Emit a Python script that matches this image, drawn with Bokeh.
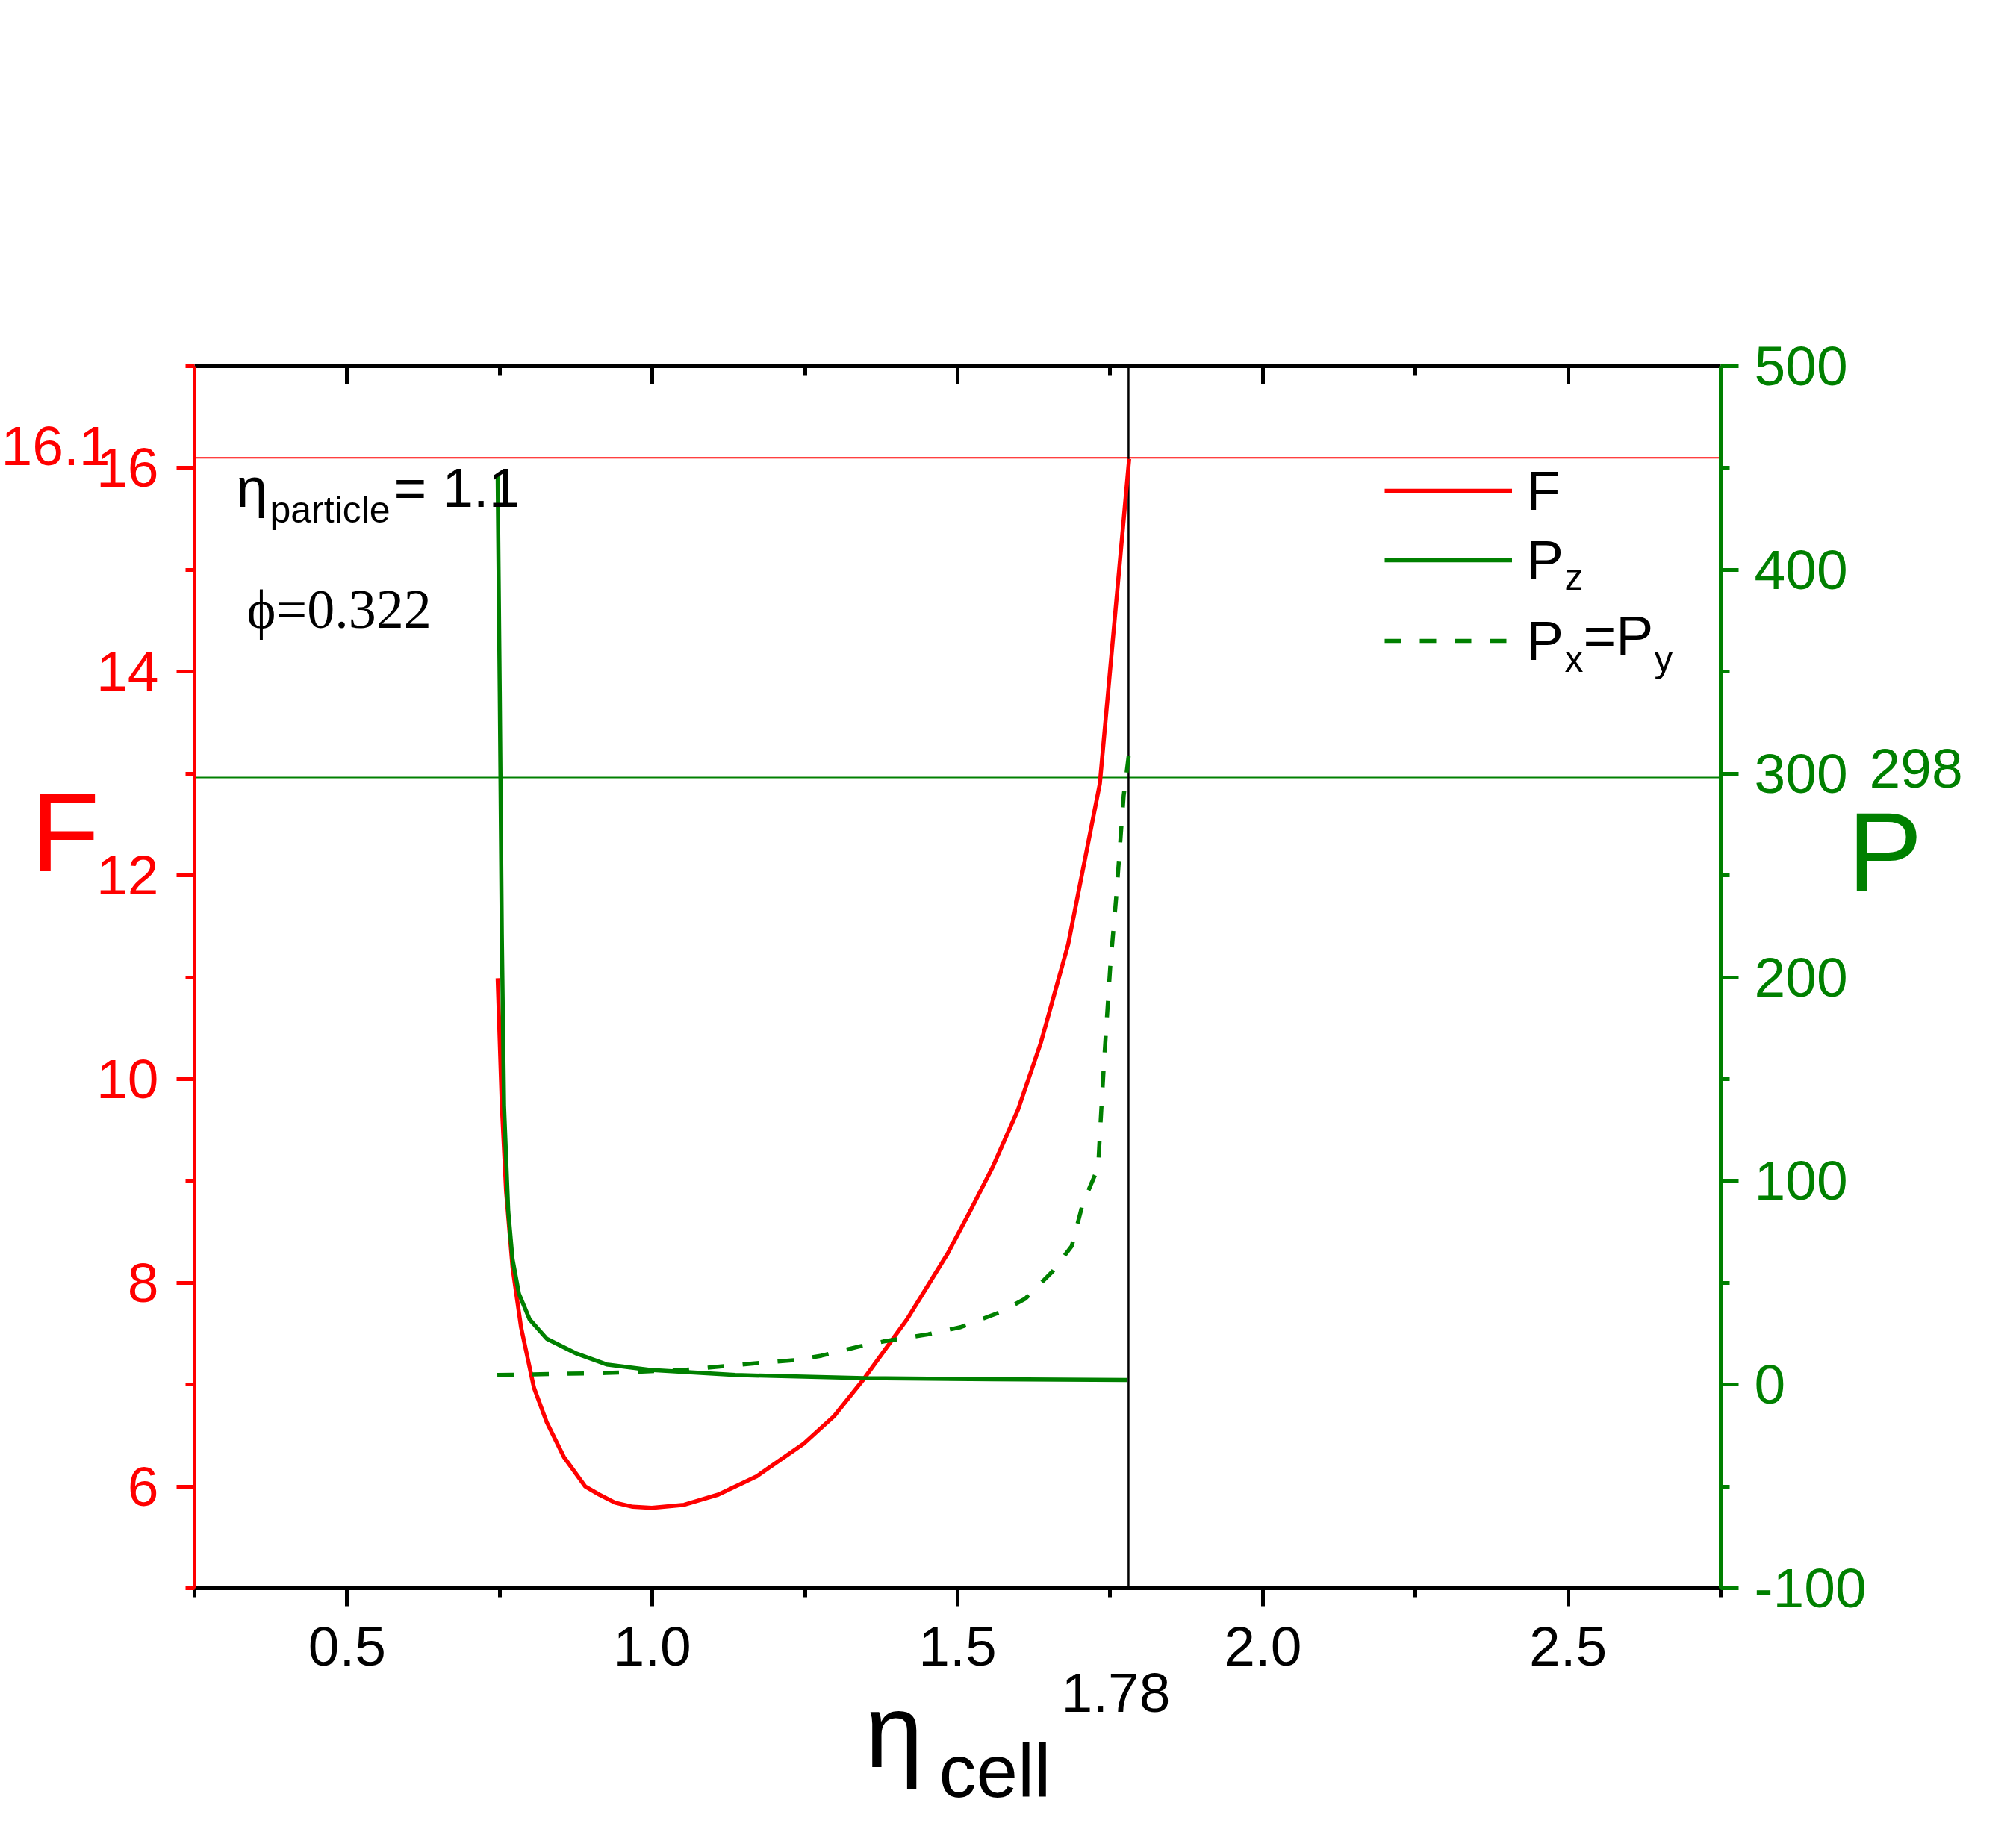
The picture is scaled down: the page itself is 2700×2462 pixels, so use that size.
from bokeh.plotting import figure
from bokeh.models import (Range1d, LinearAxis, FixedTicker, Label, Legend,
                          LegendItem, NumeralTickFormatter)
from bokeh.embed import file_html
from bokeh.resources import INLINE

# ---------------- data ----------------
eta_F = [0.7466, 0.7534, 0.7604, 0.771, 0.785, 0.806, 0.827, 0.855, 0.890, 0.913,
         0.939, 0.968, 0.999, 1.052, 1.108, 1.171, 1.248, 1.2976, 1.347, 1.417,
         1.45, 1.484, 1.522, 1.557, 1.599, 1.636, 1.681, 1.733, 1.781]
F = [10.99, 9.75, 8.90, 8.15, 7.56, 6.97, 6.63, 6.29, 6.00, 5.92,
     5.84, 5.80, 5.79, 5.82, 5.92, 6.10, 6.42, 6.69, 7.06, 7.64,
     7.96, 8.29, 8.72, 9.13, 9.70, 10.35, 11.32, 12.90, 16.09]

eta_Pz = [0.7466, 0.7500, 0.7534, 0.757, 0.764, 0.771, 0.7815, 0.799, 0.827, 0.876,
          0.925, 0.996, 1.136, 1.347, 1.557, 1.778]
Pz = [446, 340, 221, 137, 85, 61.5, 44.6, 32, 22.5, 15.2,
      9.9, 7.2, 4.7, 3.2, 2.6, 2.3]

eta_Pxy = [0.746, 0.925, 1.052, 1.164, 1.234, 1.277, 1.340, 1.379, 1.452, 1.505,
           1.571, 1.611, 1.656, 1.687, 1.705, 1.726, 1.730, 1.733, 1.740, 1.750,
           1.760, 1.772, 1.781]
Pxy = [4.7, 5.7, 7.2, 10.3, 12.0, 14.2, 18.8, 21.2, 24.7, 28.2,
       35.7, 42.2, 55.7, 68.0, 88.8, 103.6, 105.3, 122.5, 159.0, 205.0,
       240.0, 289.0, 310.5]

X_TICKS = [0.5, 1.0, 1.5, 2.0, 2.5]
X_MINOR = [0.25, 0.75, 1.25, 1.75, 2.25, 2.75]
F_TICKS = [6, 8, 10, 12, 14, 16]
F_MINOR = [5, 7, 9, 11, 13, 15, 17]
P_TICKS = [-100, 0, 100, 200, 300, 400, 500]
P_MINOR = [-50, 50, 150, 250, 350, 450]

ETA_MARK = 1.78
F_MARK = 16.1
P_MARK = 298

# ---------------- geometry ----------------
W, H = 2684, 2446
OFF = 0                                   # where the canvas starts in the picture
X0, X1 = 0.25, 2.75                       # plotted area (axes bounds)
F0, F1 = 5, 17
P0, P1 = -100, 500
PX_X0, PX_X1 = 260, 2304                  # picture px of the plot box
PX_T, PX_B = 490, 2127

sx = (PX_X1 - PX_X0) / (X1 - X0)
sF = (PX_B - PX_T) / (F1 - F0)
sP = (PX_B - PX_T) / (P1 - P0)
xs = X0 - (PX_X0 - OFF) / sx
Fe = F1 + (PX_T - OFF) / sF
Pe = P1 + (PX_T - OFF) / sP


def dx(px):
    return xs + (px - OFF) / sx


def dF(py):
    return Fe - (py - OFF) / sF


def dP(py):
    return Pe - (py - OFF) / sP


RED = "#ff0000"
GREEN = "#008000"
SANS = "Liberation Sans"
SERIF = "Liberation Serif"

p = figure(width=W, height=H,
           x_range=Range1d(xs, xs + W / sx), y_range=Range1d(Fe - H / sF, Fe),
           output_backend="svg", toolbar_location=None,
           x_axis_location=None, y_axis_location=None,
           min_border=0, min_border_left=0, min_border_right=0,
           min_border_top=0, min_border_bottom=0,
           outline_line_color=None, background_fill_color="white",
           border_fill_color="white")
p.title.visible = False
p.grid.visible = False
p.extra_y_ranges = {"P": Range1d(Pe - H / sP, Pe)}

AX_W = 5


def style(ax, color, out=True, standoff=14, labels=True):
    ax.axis_line_color = color
    ax.axis_line_width = AX_W
    ax.major_tick_line_color = color
    ax.minor_tick_line_color = color
    ax.major_tick_line_width = AX_W
    ax.minor_tick_line_width = AX_W
    if out:
        ax.major_tick_out, ax.major_tick_in = 24, 0
        ax.minor_tick_out, ax.minor_tick_in = 12, 0
    else:
        ax.major_tick_out, ax.major_tick_in = 0, 24
        ax.minor_tick_out, ax.minor_tick_in = 0, 12
    ax.major_label_text_font = SANS
    ax.major_label_text_font_size = "75px"
    ax.major_label_text_color = color if labels else None
    ax.major_label_standoff = standoff


bottom = LinearAxis(ticker=FixedTicker(ticks=X_TICKS, minor_ticks=X_MINOR),
                    formatter=NumeralTickFormatter(format="0.0"),
                    fixed_location=F0, bounds=(X0, X1))
style(bottom, "black", standoff=28)
p.add_layout(bottom, "below")

top = LinearAxis(ticker=FixedTicker(ticks=X_TICKS, minor_ticks=X_MINOR),
                 fixed_location=F1, bounds=(X0, X1))
style(top, "black", out=False, labels=False)
p.add_layout(top, "above")

left = LinearAxis(ticker=FixedTicker(ticks=F_TICKS, minor_ticks=F_MINOR),
                  formatter=NumeralTickFormatter(format="0"),
                  fixed_location=X0, bounds=(F0, F1))
style(left, RED, standoff=24)
p.add_layout(left, "left")

right = LinearAxis(y_range_name="P", ticker=FixedTicker(ticks=P_TICKS, minor_ticks=P_MINOR),
                   formatter=NumeralTickFormatter(format="0"),
                   fixed_location=X1, bounds=(P0, P1))
style(right, GREEN, standoff=21)
p.add_layout(right, "right")

# reference lines across the plot box
p.segment(x0=[X0], y0=[F_MARK], x1=[X1], y1=[F_MARK], line_color=RED, line_width=2)
p.segment(x0=[X0], y0=[P_MARK], x1=[X1], y1=[P_MARK], line_color=GREEN, line_width=2,
          y_range_name="P")
p.segment(x0=[ETA_MARK], y0=[F0], x1=[ETA_MARK], y1=[F1], line_color="black", line_width=2.5)

# curves
LW = 5.5
rF = p.line(eta_F, F, line_color=RED, line_width=LW)
rPz = p.line(eta_Pz, Pz, line_color=GREEN, line_width=LW, y_range_name="P")
rPxy = p.line(eta_Pxy, Pxy, line_color=GREEN, line_width=LW, line_dash="22 25",
              y_range_name="P")

# legend: one Legend per row so the rows can be placed like the reference
ROW_H = 100


def add_leg(label, r, row_center_img):
    vy = H - (row_center_img - OFF) - ROW_H / 2
    leg = Legend(items=[LegendItem(label=label, renderers=[r])],
                 location=(1854 - OFF, vy),
                 padding=0, spacing=0, margin=0, glyph_width=171, glyph_height=ROW_H,
                 label_height=ROW_H, label_standoff=19, label_text_font=SANS,
                 label_text_font_size="75px", label_text_color="black",
                 border_line_color=None, background_fill_alpha=0)
    p.add_layout(leg, "center")


add_leg("F", rF, 656.6)
add_leg("P", rPz, 749.5)
add_leg("P", rPxy, 858)

K = 0.44   # baseline correction (fraction of font size)


def lab(text, px, py, size, color="black", font=SANS, align="left", rng="F"):
    kw = {}
    yb = py - K * size
    if rng == "P":
        y = dP(yb)
        kw["y_range_name"] = "P"
    else:
        y = dF(yb)
    p.add_layout(Label(x=dx(px), y=y, text=text, text_font=font,
                       text_font_size=f"{size}px", text_color=color, text_align=align,
                       text_baseline="alphabetic", **kw))


# legend sub/superscript parts
lab("z", 2095, 794, 50)
lab("x", 2095, 904, 50)
lab("=P", 2120, 883.7, 75)
lab("y", 2215, 904, 50)

# annotations inside the plot box
lab("\u03b7", 316, 685, 75)
lab("particle", 361, 704, 50)
lab("= 1.1", 527, 685, 75)
lab("\u03d5=0.322", 330, 848, 74, font=SERIF)

# value labels of the reference lines
lab("16.1", 147, 629.6, 75, color=RED, align="right")
lab("298", 2503, 1062, 75, color=GREEN, rng="P")
lab("1.78", 1494, 2300, 75, align="center")

# axis titles
lab("F", 41, 1180, 150, color=RED)
lab("P", 2474, 1206, 150, color=GREEN, rng="P")
lab("\u03b7", 1158, 2380, 140)
lab("cell", 1257, 2415, 100)

open("out.html", "w").write(file_html(p, INLINE))
